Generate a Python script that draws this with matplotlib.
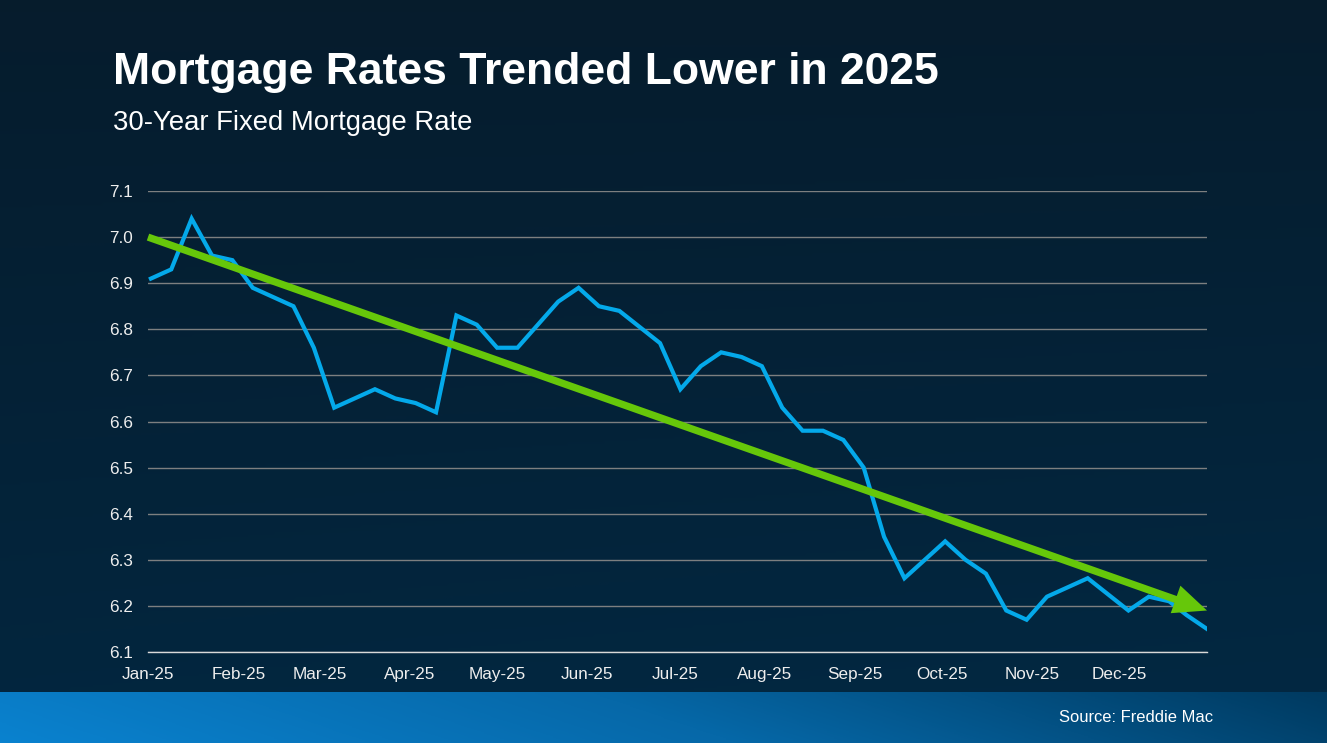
import numpy as np
import pandas as pd
import matplotlib
matplotlib.use("Agg")
import matplotlib.pyplot as plt
import matplotlib.dates as mdates
from matplotlib.colors import LinearSegmentedColormap
from matplotlib.patches import FancyArrowPatch

plt.rcParams['font.family'] = ['Liberation Sans', 'DejaVu Sans']

# ---------------- data ----------------
dates = ["2025-01-02", "2025-01-09", "2025-01-16", "2025-01-23", "2025-01-30",
         "2025-02-06", "2025-02-13", "2025-02-20", "2025-02-27",
         "2025-03-06", "2025-03-13", "2025-03-20", "2025-03-27",
         "2025-04-03", "2025-04-10", "2025-04-17", "2025-04-24",
         "2025-05-01", "2025-05-08", "2025-05-15", "2025-05-22", "2025-05-29",
         "2025-06-05", "2025-06-12", "2025-06-18", "2025-06-26",
         "2025-07-03", "2025-07-10", "2025-07-17", "2025-07-24", "2025-07-31",
         "2025-08-07", "2025-08-14", "2025-08-21", "2025-08-28",
         "2025-09-04", "2025-09-11", "2025-09-18", "2025-09-25",
         "2025-10-02", "2025-10-09", "2025-10-16", "2025-10-23", "2025-10-30",
         "2025-11-06", "2025-11-13", "2025-11-20", "2025-11-26",
         "2025-12-04", "2025-12-11", "2025-12-18", "2025-12-24", "2025-12-31"]
rates = [6.91, 6.93, 7.04, 6.96, 6.95,
         6.89, 6.87, 6.85, 6.76,
         6.63, 6.65, 6.67, 6.65,
         6.64, 6.62, 6.83, 6.81,
         6.76, 6.76, 6.81, 6.86, 6.89,
         6.85, 6.84, 6.81, 6.77,
         6.67, 6.72, 6.75, 6.74, 6.72,
         6.63, 6.58, 6.58, 6.56,
         6.50, 6.35, 6.26, 6.30,
         6.34, 6.30, 6.27, 6.19, 6.17,
         6.22, 6.24, 6.26, 6.23,
         6.19, 6.22, 6.21, 6.18, 6.15]
trend_dates = ["2025-01-01", "2025-12-31"]
trend_values = [7.00, 6.19]
month_ticks = ["2025-01-01", "2025-02-01", "2025-03-01", "2025-04-01", "2025-05-01",
               "2025-06-01", "2025-07-01", "2025-08-01", "2025-09-01", "2025-10-01",
               "2025-11-01", "2025-12-01"]
month_labels = ["Jan-25", "Feb-25", "Mar-25", "Apr-25", "May-25", "Jun-25",
                "Jul-25", "Aug-25", "Sep-25", "Oct-25", "Nov-25", "Dec-25"]
y_ticks = [6.1, 6.2, 6.3, 6.4, 6.5, 6.6, 6.7, 6.8, 6.9, 7.0, 7.1]

title = "Mortgage Rates Trended Lower in 2025"
subtitle = "30-Year Fixed Mortgage Rate"
source = "Source: Freddie Mac"

# ---------------- figure ----------------
W, H = 1327, 743
fig = plt.figure(figsize=(W / 100, H / 100), dpi=100)

# background gradient
bg = fig.add_axes([0, 0, 1, 1], zorder=-10)
bg.set_axis_off()
band_frac = 51 / H
yy = np.linspace(0, 1, 300)[:, None]
xx = np.linspace(0, 1, 400)[None, :]
top_cmap = LinearSegmentedColormap.from_list("top", ["#022842", "#071a29"])
grad = (yy * 0.85 + (1 - xx) * 0.15 * (1 - yy))
bg.imshow(grad, cmap=top_cmap, extent=[0, 1, band_frac, 1], origin="lower",
          aspect="auto", vmin=0, vmax=1)
band_cmap = LinearSegmentedColormap.from_list("band", ["#0a82cf", "#0668a8", "#003a60"])
yb = np.linspace(0, 1, 50)[:, None]
band = xx * 0.9 + yb * 0.1
bg.imshow(band, cmap=band_cmap, extent=[0, 1, 0, band_frac], origin="lower",
          aspect="auto", vmin=0, vmax=1)
bg.set_xlim(0, 1)
bg.set_ylim(0, 1)

# main axes
ax = fig.add_axes([148 / W, 1 - 652 / H, (1207 - 148) / W, (652 - 191) / H])
ax.set_facecolor("none")

x = pd.to_datetime(dates)
ax.plot(x, rates, color="#04a9ea", lw=3.0, solid_joinstyle="miter", zorder=3)

tx = mdates.date2num(pd.to_datetime(trend_dates))
arrow = FancyArrowPatch((tx[0], trend_values[0]), (tx[1], trend_values[1]),
                        arrowstyle="simple,head_length=2.4,head_width=2.1,tail_width=0.52",
                        mutation_scale=10, color="#66c70a", lw=0, zorder=4,
                        shrinkA=0, shrinkB=0, clip_on=False)
ax.add_patch(arrow)

ax.set_xlim(pd.Timestamp("2025-01-01"), pd.Timestamp("2025-12-31"))
ax.set_ylim(6.1, 7.1)
ax.set_yticks(y_ticks)
ax.set_yticklabels([f"{v:.1f}" for v in y_ticks])
ax.set_xticks(pd.to_datetime(month_ticks))
ax.set_xticklabels(month_labels)

ax.grid(axis="y", color="#7d7f80", lw=1.0)
ax.set_axisbelow(True)
for s in ["top", "right", "left"]:
    ax.spines[s].set_visible(False)
ax.spines["bottom"].set_color("#d9d9d9")
ax.spines["bottom"].set_linewidth(1.0)
ax.tick_params(axis="both", length=0, colors="#eeeeee", labelsize=12.3)
ax.tick_params(axis="y", pad=11)
ax.tick_params(axis="x", pad=11)

fig.text(113 / W, 1 - 84 / H, title, color="white", fontsize=32,
         fontweight="bold", va="baseline", ha="left")
fig.text(113 / W, 1 - 130 / H, subtitle, color="white", fontsize=19.8,
         va="baseline", ha="left")
fig.text(1213 / W, 1 - 718 / H, source, color="white", fontsize=11.9,
         va="center", ha="right")

fig.savefig("out.png", dpi=100)
